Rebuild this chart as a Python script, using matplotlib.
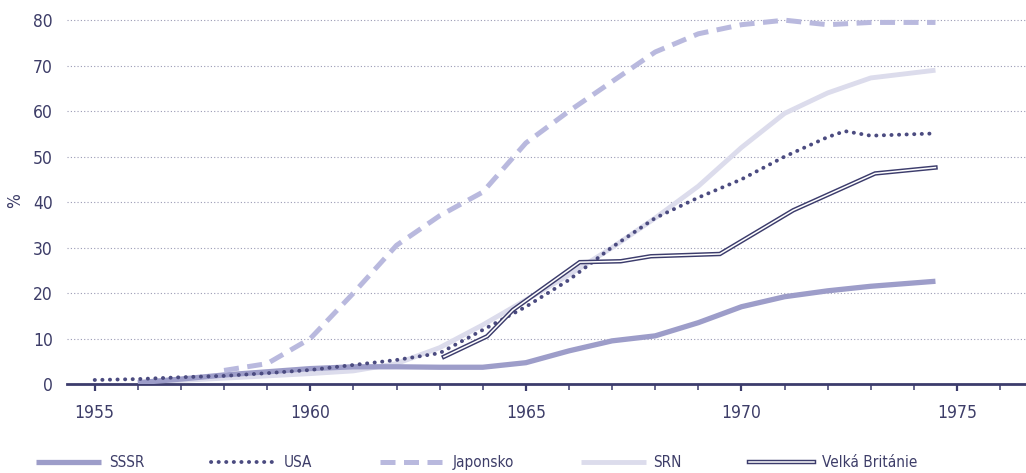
import matplotlib
matplotlib.use('Agg')
import matplotlib.pyplot as plt
from matplotlib.ticker import MultipleLocator
from matplotlib.lines import Line2D
from matplotlib.legend_handler import HandlerBase

plt.rcParams['font.family'] = ['DejaVu Sans']
plt.rcParams['font.stretch'] = 'condensed'

# values (percent)
years_sssr = [1956, 1957, 1958, 1959, 1960, 1961, 1962, 1963, 1964, 1965,
              1966, 1967, 1968, 1969, 1970, 1971, 1972, 1973, 1974.5]
sssr = [0.3, 1.1, 2.0, 2.7, 3.4, 3.8, 3.8, 3.7, 3.7, 4.7,
        7.3, 9.5, 10.6, 13.5, 17.0, 19.2, 20.5, 21.5, 22.6]

years_usa = [1955, 1956, 1957, 1958, 1959, 1960, 1961, 1962, 1963, 1964,
             1965, 1966, 1967, 1968, 1969, 1970, 1971, 1972, 1972.4, 1973, 1974.5]
usa = [0.9, 1.1, 1.5, 1.8, 2.4, 3.1, 4.2, 5.3, 6.8, 11.9,
       17.0, 22.9, 30.1, 36.5, 41.0, 45.0, 50.0, 54.3, 55.6, 54.6, 55.1]

years_jap = [1958, 1959, 1960, 1961, 1962, 1963, 1964, 1965, 1966, 1967,
             1968, 1969, 1970, 1971, 1972, 1973, 1974.5]
jap = [3.0, 4.5, 10.0, 20.0, 30.5, 37.0, 42.2, 53.0, 60.0, 66.5,
       73.0, 77.0, 79.0, 80.0, 79.0, 79.5, 79.5]

years_srn = [1956, 1957, 1958, 1959, 1960, 1961, 1962, 1963, 1964, 1965,
             1966, 1967, 1968, 1969, 1970, 1971, 1972, 1973, 1974.5]
srn = [0.3, 0.8, 1.3, 1.8, 2.3, 2.9, 4.5, 8.0, 13.0, 18.5,
       24.0, 30.0, 36.5, 43.5, 52.0, 59.5, 64.0, 67.3, 69.0]

years_vb = [1963.1, 1964.1, 1964.7, 1966.25, 1967.2, 1967.9, 1969.5, 1971.2, 1973.1, 1974.5]
vb = [6.0, 10.5, 16.3, 26.8, 27.0, 28.1, 28.6, 38.2, 46.3, 47.6]

labels = ['SSSR', 'USA', 'Japonsko', 'SRN', 'Velká Británie']

navy = '#3c3c6c'
text_col = '#3d3d68'
c_sssr, c_usa, c_jap, c_srn = '#9d9dc9', '#4b4b80', '#b9b9de', '#dcdcec'

fig = plt.figure(figsize=(10.26, 4.73), dpi=100)
ax = fig.add_axes([0.065, 0.188, 0.935, 0.779])

ax.plot(years_srn, srn, color=c_srn, lw=3.5, solid_capstyle='butt', zorder=2)
ax.plot(years_sssr, sssr, color=c_sssr, lw=3.8, solid_capstyle='butt', zorder=3)
ax.plot(years_jap, jap, color=c_jap, lw=3.6, linestyle=(0, (3.0, 1.7)), dash_capstyle='butt',
        zorder=3)
ax.plot(years_usa, usa, color=c_usa, lw=2.8, linestyle=(0, (0.05, 1.9)), dash_capstyle='round',
        zorder=4)
ax.plot(years_vb, vb, color=navy, lw=3.2, solid_joinstyle='miter', zorder=5)
ax.plot(years_vb, vb, color='white', lw=1.1, solid_joinstyle='miter', zorder=6)

ax.set_xlim(1954.35, 1976.6)
ax.set_ylim(0, 81)
ax.xaxis.set_major_locator(MultipleLocator(5))
ax.xaxis.set_minor_locator(MultipleLocator(1))
ax.yaxis.set_major_locator(MultipleLocator(10))

for s in ['top', 'right', 'left']:
    ax.spines[s].set_visible(False)
ax.spines['bottom'].set_color(navy)
ax.spines['bottom'].set_linewidth(2)

ax.tick_params(axis='x', which='major', length=5, width=1.6, color=navy, pad=9,
               labelsize=12.5, labelcolor=text_col)
ax.tick_params(axis='x', which='minor', length=4, width=1.1, color=navy)
ax.tick_params(axis='y', length=0, pad=10, labelsize=12.5, labelcolor=text_col)

ax.grid(axis='y', linestyle=(0, (1, 2)), color='#9a9ab4', lw=0.8)
ax.set_axisbelow(True)
fig.text(0.015, 0.577, '%', rotation=90, fontsize=12.5, color=text_col, ha='center', va='center')


# legend with a double-line handle for Velká Británie
class DoubleLine(HandlerBase):
    def create_artists(self, legend, orig, xd, yd, w, h, fs, trans):
        y = h / 2 - yd
        a = Line2D([-xd, w - xd], [y, y], color=navy, lw=3.2, transform=trans)
        b = Line2D([-xd, w - xd], [y, y], color='white', lw=1.1, transform=trans)
        return [a, b]


h_sssr = Line2D([], [], color=c_sssr, lw=3.8, solid_capstyle='butt')
h_usa = Line2D([], [], color=c_usa, lw=2.8, linestyle=(0, (0.05, 1.9)), dash_capstyle='round')
h_jap = Line2D([], [], color=c_jap, lw=3.6, linestyle=(0, (3.0, 1.7)), dash_capstyle='butt')
h_srn = Line2D([], [], color=c_srn, lw=3.5, solid_capstyle='butt')
h_vb = Line2D([], [], color=navy)
fig.legend([h_sssr, h_usa, h_jap, h_srn, h_vb], labels, loc='center left',
           bbox_to_anchor=(0.022, 0.022), ncol=5, frameon=False, fontsize=11,
           handlelength=4.25, handletextpad=0.5, columnspacing=4.4, labelcolor=text_col,
           handler_map={h_vb: DoubleLine()})

fig.savefig('out.png', dpi=100)
